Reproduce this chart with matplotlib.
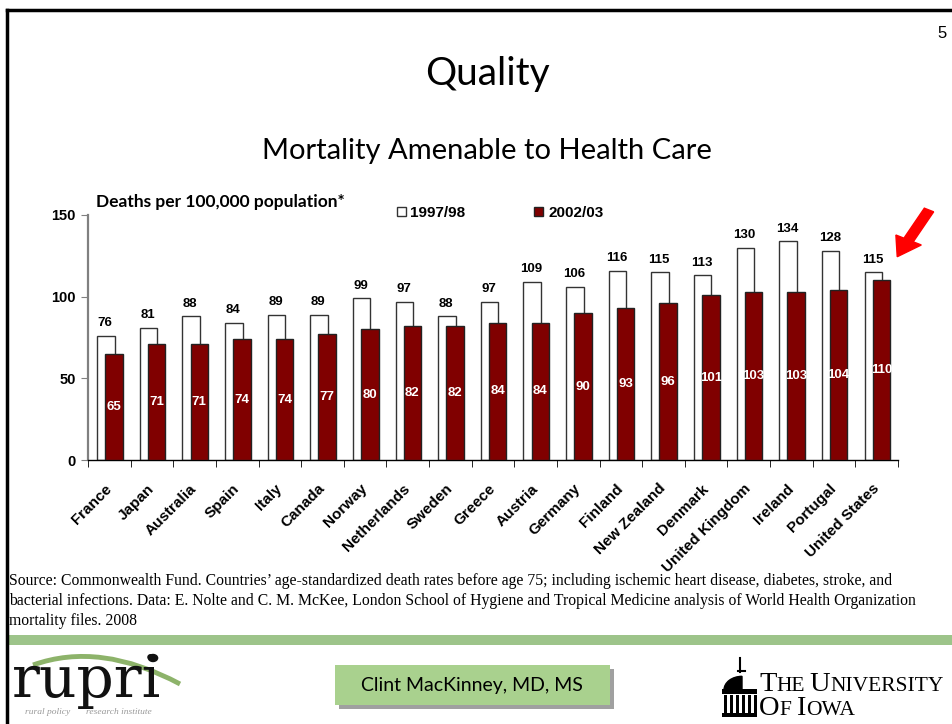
import numpy as np
import matplotlib
matplotlib.use("Agg")
import matplotlib.pyplot as plt
from matplotlib.patches import Rectangle, FancyArrow, PathPatch, Circle, Wedge
from matplotlib.path import Path
from matplotlib.lines import Line2D

countries = ["France", "Japan", "Australia", "Spain", "Italy", "Canada", "Norway",
             "Netherlands", "Sweden", "Greece", "Austria", "Germany", "Finland",
             "New Zealand", "Denmark", "United Kingdom", "Ireland", "Portugal",
             "United States"]
rates_9798 = [76, 81, 88, 84, 89, 89, 99, 97, 88, 97, 109, 106, 116, 115, 113, 130, 134, 128, 115]
rates_0203 = [65, 71, 71, 74, 74, 77, 80, 82, 82, 84, 84, 90, 93, 96, 101, 103, 103, 104, 110]
series_names = ["1997/98", "2002/03"]
y_ticks = [0, 50, 100, 150]

W, H = 953, 724
DARK_RED = "#800000"
GREEN = "#9dc48a"

fig = plt.figure(figsize=(W / 100, H / 100), dpi=100)
fig.patch.set_facecolor("white")


def fx(px):
    return px / W


def fy(py):
    return 1 - py / H


# slide frame
fig.add_artist(Line2D([fx(7), fx(952)], [fy(10), fy(10)], color="black", lw=2.5))
fig.add_artist(Line2D([fx(7), fx(7)], [fy(10), fy(724)], color="black", lw=2.5))
fig.add_artist(Rectangle((fx(8), fy(645)), fx(945), 10 / H, color=GREEN, lw=0))

fig.text(fx(942), fy(33), "5", fontsize=12, family="Liberation Sans", ha="center", va="center")
fig.text(fx(487), fy(74), "Quality", fontsize=28, family="Lato", ha="center", va="center")
fig.text(fx(487), fy(151), "Mortality Amenable to Health Care", fontsize=21, family="Lato",
         ha="center", va="center")

# chart
n = len(countries)
x = np.arange(n)
ax = fig.add_axes([fx(88), fy(460), fx(810), 245 / H])
w = 0.41
ax.bar(x - 0.08, rates_9798, w, color="white", edgecolor="#333333", lw=1.0, zorder=2,
       label=series_names[0])
ax.bar(x + 0.11, rates_0203, w, color=DARK_RED, edgecolor="#222222", lw=1.0, zorder=3,
       label=series_names[1])

for i in range(n):
    ax.text(x[i] - 0.1, rates_9798[i] + 4, str(rates_9798[i]), ha="center", va="bottom",
            fontsize=9.5, fontweight="bold", family="Liberation Sans")
    ax.text(x[i] + 0.11, rates_0203[i] / 2, str(rates_0203[i]), ha="center", va="center",
            fontsize=9.5, fontweight="bold", color="white", family="Liberation Sans", zorder=4)

ax.set_xlim(-0.5, n - 0.5)
ax.set_ylim(0, 150)
ax.set_yticks(y_ticks)
ax.set_yticklabels([str(v) for v in y_ticks], fontsize=10.5, fontweight="bold",
                   family="Liberation Sans")
ax.set_xticks(x)
ax.set_xticklabels(countries, rotation=45, ha="right", va="center", rotation_mode="anchor",
                   fontsize=11, fontweight="bold", family="Liberation Sans")
ax.tick_params(axis="x", length=0, pad=19)
ax.set_xticks(np.arange(n + 1) - 0.5, minor=True)
ax.tick_params(axis="x", which="minor", length=5, direction="out", color="black")
ax.tick_params(axis="y", length=5, direction="out", color="#808080", pad=4)
for s in ["top", "right"]:
    ax.spines[s].set_visible(False)
ax.spines["left"].set_color("#808080")
ax.spines["left"].set_linewidth(1.6)
ax.spines["bottom"].set_color("black")
ax.spines["bottom"].set_linewidth(1.0)

fig.text(fx(96), fy(202), "Deaths per 100,000 population*", fontsize=12.5, fontweight="bold",
         family="Lato", ha="left", va="center")
ax.legend(loc="center", bbox_to_anchor=(fx(500), fy(213)), bbox_transform=fig.transFigure,
          ncol=2, frameon=False, handlelength=0.6, handleheight=0.6, handletextpad=0.3,
          columnspacing=4.5, prop={"family": "Liberation Sans", "weight": "bold", "size": 11})

# red arrow
fig.add_artist(FancyArrow(fx(929), fy(210), fx(895 - 929) * 0.6, (fy(260) - fy(210)) * 0.6,
                          width=0.011, head_width=0.03, head_length=0.026,
                          color="#ff0000", transform=fig.transFigure, length_includes_head=False))

src = ("Source: Commonwealth Fund. Countries\u2019 age-standardized death rates before age 75; including ischemic heart disease, diabetes, stroke, and\n"
       "bacterial infections. Data: E. Nolte and C. M. McKee, London School of Hygiene and Tropical Medicine analysis of World Health Organization\n"
       "mortality files. 2008")
fig.text(fx(9), fy(573), src, fontsize=11.3, family="Liberation Serif", ha="left", va="top",
         linespacing=1.32)

# footer: rupri logo
fig.text(fx(12), fy(697), "rupri", fontsize=42, family="DejaVu Serif", color="#111111",
         ha="left", va="baseline")
swoosh = Path([(fx(33), fy(665)), (fx(100), fy(641)), (fx(180), fy(684))],
              [Path.MOVETO, Path.CURVE3, Path.CURVE3])
fig.add_artist(PathPatch(swoosh, fill=False, edgecolor="#8db36a", lw=3.5,
                         transform=fig.transFigure))
fig.add_artist(Circle((fx(153), fy(658)), 3.5 / H, color="#111111", transform=fig.transFigure))
fig.text(fx(25), fy(712), "rural policy", fontsize=6.8, style="italic",
         family="Liberation Serif", color="#999999", ha="left", va="center")
fig.text(fx(86), fy(712), "research institute", fontsize=6.8, style="italic",
         family="Liberation Serif", color="#999999", ha="left", va="center")

# name box
fig.add_artist(Rectangle((fx(339), fy(709)), fx(275), 40 / H, color="#a0a0a0", lw=0,
                         transform=fig.transFigure))
fig.add_artist(Rectangle((fx(335), fy(705)), fx(275), 40 / H, facecolor="#a9d18e", lw=0,
                         transform=fig.transFigure))
fig.text(fx(472), fy(685), "Clint MacKinney, MD, MS", fontsize=14, family="Lato",
         ha="center", va="center")

# University of Iowa icon
ink = "black"
fig.add_artist(Line2D([fx(740), fx(740)], [fy(658), fy(672)], color=ink, lw=1.5))
fig.add_artist(Line2D([fx(738), fx(745)], [fy(671), fy(671)], color=ink, lw=1.5))
fig.add_artist(Wedge((fx(742), fy(690)), 18 / W, 90, 180, color=ink, transform=fig.transFigure))
fig.add_artist(Rectangle((fx(722), fy(694)), fx(35), 5 / H, color=ink, lw=0))
for cx in range(724, 756, 6):
    fig.add_artist(Rectangle((fx(cx), fy(713)), fx(3), 18 / H, color=ink, lw=0))
fig.add_artist(Rectangle((fx(722), fy(717)), fx(35), 4 / H, color=ink, lw=0))

renderer = fig.canvas.get_renderer()


def small_caps(x0, base, words, big, small):
    cur = x0
    for k, word in enumerate(words):
        for s, size in [(word[0], big), (word[1:], small)]:
            if not s:
                continue
            t = fig.text(fx(cur), fy(base), s, fontsize=size, family="Liberation Serif",
                         ha="left", va="baseline", color=ink)
            cur += t.get_window_extent(renderer).width
        cur += 5


small_caps(759, 691, ["THE", "UNIVERSITY"], 20.5, 15.5)
small_caps(759, 715, ["OF", "IOWA"], 20.5, 15.5)

fig.savefig("out.png", dpi=100)
